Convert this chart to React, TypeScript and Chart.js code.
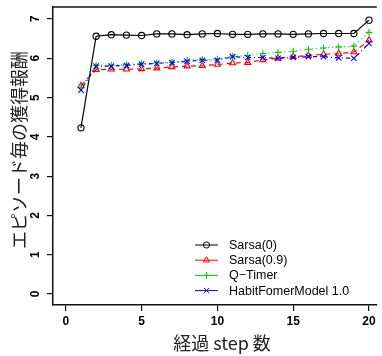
import React, { useEffect, useRef } from "react";
import { Chart, registerables } from "chart.js";

Chart.register(...registerables);

const steps = [1, 2, 3, 4, 5, 6, 7, 8, 9, 10, 11, 12, 13, 14, 15, 16, 17, 18, 19, 20];
const sarsa0 = [4.23, 6.56, 6.6, 6.59, 6.58, 6.62, 6.62, 6.6, 6.62, 6.63, 6.61, 6.61, 6.62, 6.62, 6.61, 6.62, 6.63, 6.63, 6.63, 6.97];
const sarsa09 = [5.3, 5.71, 5.72, 5.72, 5.73, 5.75, 5.78, 5.8, 5.81, 5.84, 5.88, 5.89, 5.96, 6.0, 6.04, 6.07, 6.1, 6.12, 6.16, 6.46];
const qTimer = [5.25, 5.82, 5.82, 5.84, 5.86, 5.88, 5.9, 5.95, 5.97, 5.98, 6.04, 6.07, 6.12, 6.15, 6.18, 6.23, 6.26, 6.29, 6.31, 6.66];
const habit = [5.19, 5.8, 5.8, 5.82, 5.85, 5.87, 5.89, 5.92, 5.95, 5.95, 6.04, 6.02, 6.02, 6.0, 6.02, 6.04, 6.04, 6.01, 6.0, 6.38];

const seriesNames = ["Sarsa(0)", "Sarsa(0.9)", "Q\u2212Timer", "HabitFomerModel 1.0"];
const xTicks = [0, 5, 10, 15, 20];
const yTicks = [0, 1, 2, 3, 4, 5, 6, 7];
const xTitle = "経過 step 数";
const yTitle = "エピソード毎の獲得報酬";

const W = 382;
const H = 356;
const AXIS = "#111111";
const TICK_FONT = 'bold 12px "Liberation Sans", Arial, sans-serif';
const TITLE_FONT = '18px "Noto Sans CJK JP", sans-serif';
const LEGEND_FONT = '12.5px "Liberation Sans", Arial, sans-serif';

function drawMarker(ctx: CanvasRenderingContext2D, style: string, x: number, y: number, r: number, color: string) {
  ctx.save();
  ctx.setLineDash([]);
  ctx.strokeStyle = color;
  ctx.lineWidth = 1;
  ctx.beginPath();
  if (style === "circle") {
    ctx.arc(x, y, r, 0, Math.PI * 2);
  } else if (style === "triangle") {
    for (let i = 0; i < 3; i++) {
      const a = (i * 2 * Math.PI) / 3;
      const px = x + Math.sin(a) * r;
      const py = y - Math.cos(a) * r;
      if (i === 0) ctx.moveTo(px, py);
      else ctx.lineTo(px, py);
    }
    ctx.closePath();
  } else if (style === "cross") {
    ctx.moveTo(x - r, y);
    ctx.lineTo(x + r, y);
    ctx.moveTo(x, y - r);
    ctx.lineTo(x, y + r);
  } else {
    const d = r * Math.SQRT1_2;
    ctx.moveTo(x - d, y - d);
    ctx.lineTo(x + d, y + d);
    ctx.moveTo(x - d, y + d);
    ctx.lineTo(x + d, y - d);
  }
  ctx.stroke();
  ctx.restore();
}

const overlayPlugin = {
  id: "overlay",
  afterDraw(chart: any) {
    const ctx: CanvasRenderingContext2D = chart.ctx;
    const { left, right, top } = chart.chartArea;
    const xs = chart.scales.x;
    const ys = chart.scales.y;
    ctx.save();
    ctx.strokeStyle = AXIS;
    ctx.lineWidth = 1.5;
    ctx.beginPath();
    ctx.moveTo(left - 0.75, top);
    ctx.lineTo(right, top);
    ctx.stroke();

    ctx.fillStyle = "#000";
    ctx.font = TICK_FONT;
    ctx.textAlign = "center";
    ctx.textBaseline = "middle";
    xTicks.forEach((v) => {
      ctx.fillText(String(v), xs.getPixelForValue(v), 321.5);
    });
    yTicks.forEach((v) => {
      ctx.save();
      ctx.translate(36, ys.getPixelForValue(v));
      ctx.rotate(-Math.PI / 2);
      ctx.fillText(String(v), 0, 0);
      ctx.restore();
    });

    ctx.fillStyle = "#222";
    ctx.font = TITLE_FONT;
    ctx.fillText(xTitle, 222, 343);
    ctx.save();
    ctx.translate(19, 150);
    ctx.rotate(-Math.PI / 2);
    ctx.fillText(yTitle, 0, 0);
    ctx.restore();

    ctx.font = LEGEND_FONT;
    ctx.textAlign = "left";
    chart.data.datasets.forEach((ds: any, i: number) => {
      const y = 245 + i * 15.2;
      ctx.save();
      ctx.strokeStyle = ds.borderColor;
      ctx.lineWidth = 1;
      ctx.setLineDash([]);
      ctx.beginPath();
      ctx.moveTo(195, y);
      ctx.lineTo(218, y);
      ctx.stroke();
      ctx.restore();
      drawMarker(ctx, ds.pointStyle, 206.5, y, ds.pointRadius, ds.borderColor);
      ctx.fillStyle = "#000";
      ctx.fillText(seriesNames[i], 229, y + 0.5);
    });
    ctx.restore();
  },
};

function toPoints(vals: number[]) {
  return steps.map((s, i) => ({ x: s, y: vals[i] }));
}

export default function App() {
  const ref = useRef<HTMLCanvasElement | null>(null);
  useEffect(() => {
    if (!ref.current) return;
    const mk = (label: string, vals: number[], color: string, dash: number[], style: string, r: number, order: number) => ({
      label,
      data: toPoints(vals),
      borderColor: color,
      backgroundColor: "transparent",
      borderWidth: 1.2,
      borderDash: dash,
      pointStyle: style,
      pointRadius: r,
      pointBorderColor: color,
      pointBackgroundColor: "transparent",
      pointBorderWidth: 1.1,
      tension: 0,
      order,
    });
    const chart = new Chart(ref.current, {
      type: "line",
      data: {
        datasets: [
          mk(seriesNames[0], sarsa0, "#000000", [], "circle", 3.1, 3),
          mk(seriesNames[1], sarsa09, "#FF0000", [5, 4], "triangle", 3.5, 2),
          mk(seriesNames[2], qTimer, "#00CD00", [1, 3], "cross", 3.4, 1),
          mk(seriesNames[3], habit, "#0000FF", [1, 3, 4, 3], "crossRot", 3.8, 0),
        ] as any,
      },
      options: {
        animation: false,
        responsive: false,
        devicePixelRatio: 1,
        layout: { padding: { top: 7, left: 0, right: 0, bottom: 0 } },
        plugins: { legend: { display: false }, tooltip: { enabled: false } },
        scales: {
          x: {
            type: "linear",
            min: -0.844,
            max: 20.52,
            afterBuildTicks: (s: any) => {
              s.ticks = xTicks.map((v) => ({ value: v }));
            },
            afterFit: (s: any) => {
              s.height = 51;
            },
            ticks: { display: false },
            grid: { drawOnChartArea: false, drawTicks: true, tickLength: 6, color: AXIS, lineWidth: 1.2 },
            border: { display: true, color: AXIS, width: 1.5 },
          },
          y: {
            type: "linear",
            min: -0.28,
            max: 7.305,
            afterBuildTicks: (s: any) => {
              s.ticks = yTicks.map((v) => ({ value: v }));
            },
            afterFit: (s: any) => {
              s.width = 53;
            },
            ticks: { display: false },
            grid: { drawOnChartArea: false, drawTicks: true, tickLength: 6, color: AXIS, lineWidth: 1.2 },
            border: { display: true, color: AXIS, width: 1.5 },
          },
        },
      } as any,
      plugins: [overlayPlugin],
    });
    return () => chart.destroy();
  }, []);
  return (
    <div style={{ position: "fixed", left: 0, top: 0, width: W, height: H, background: "#fff" }}>
      <canvas ref={ref} width={W} height={H} style={{ display: "block", width: W, height: H }} />
    </div>
  );
}
